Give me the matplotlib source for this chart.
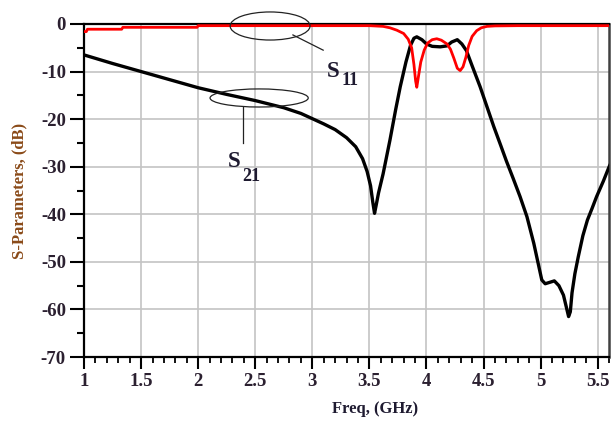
import matplotlib
matplotlib.use("Agg")
import matplotlib.pyplot as plt
from matplotlib.patches import Ellipse
from matplotlib.ticker import MultipleLocator

plt.rcParams['font.family'] = ['Liberation Serif', 'DejaVu Serif']
plt.rcParams['axes.unicode_minus'] = False

# ---- data ----
s21_freq = [1.00, 1.25, 1.50, 1.75, 2.00, 2.25, 2.50, 2.75, 2.90, 3.00, 3.10, 3.20,
            3.30, 3.38, 3.44, 3.48, 3.51, 3.53, 3.545, 3.56, 3.58, 3.62, 3.68, 3.73,
            3.77, 3.82, 3.86, 3.89, 3.915, 3.96, 4.00, 4.05, 4.12, 4.18, 4.22, 4.27,
            4.31, 4.35, 4.40, 4.47, 4.53, 4.59, 4.65, 4.70, 4.76, 4.82, 4.88, 4.94,
            4.98, 5.01, 5.04, 5.08, 5.12, 5.16, 5.20, 5.225, 5.245, 5.26, 5.275, 5.30,
            5.33, 5.37, 5.41, 5.45, 5.49, 5.55, 5.60, 5.63]
s21_db = [-6.5, -8.3, -10.0, -11.7, -13.4, -14.8, -16.1, -17.6, -18.8, -19.9, -21.0, -22.2,
          -23.9, -25.8, -28.3, -31.0, -34.0, -37.5, -39.8, -38.0, -35.5, -31.5, -24.4, -18.0,
          -13.2, -8.0, -4.5, -3.0, -2.7, -3.3, -4.2, -4.7, -4.8, -4.6, -3.8, -3.3,
          -4.2, -5.6, -8.8, -13.2, -17.4, -21.6, -25.5, -28.8, -32.5, -36.3, -40.5, -46.1,
          -50.5, -53.8, -54.6, -54.3, -54.0, -55.0, -57.0, -59.5, -61.5, -60.5, -56.5, -52.5,
          -48.9, -44.5, -41.2, -38.8, -36.3, -33.0, -30.0, -28.5]

s11_freq = [1.00, 1.02, 1.03, 1.33, 1.34, 1.99, 2.00, 3.50, 3.62, 3.68, 3.74, 3.80,
            3.84, 3.87, 3.89, 3.905, 3.915, 3.93, 3.95, 3.98, 4.01, 4.05, 4.09, 4.13,
            4.18, 4.21, 4.24, 4.27, 4.295, 4.32, 4.345, 4.37, 4.40, 4.44, 4.48, 4.53,
            4.60, 4.80, 5.63]
s11_db = [-1.6, -1.6, -1.1, -1.1, -0.7, -0.7, -0.35, -0.35, -0.5, -0.8, -1.3, -2.0,
          -3.2, -5.0, -8.5, -12.0, -13.3, -11.0, -8.0, -5.5, -4.0, -3.3, -3.1, -3.4,
          -4.2, -5.3, -7.2, -9.3, -9.8, -9.0, -7.0, -4.5, -2.6, -1.4, -0.8, -0.5,
          -0.4, -0.35, -0.35]

x_ticks = [1, 1.5, 2, 2.5, 3, 3.5, 4, 4.5, 5, 5.5]
x_tick_labels = ['1', '1.5', '2', '2.5', '3', '3.5', '4', '4.5', '5', '5.5']
y_ticks = [-70, -60, -50, -40, -30, -20, -10, 0]
y_tick_labels = ['-70', '-60', '-50', '-40', '-30', '-20', '-10', '0']

# ---- figure ----
fig = plt.figure(figsize=(6.12, 4.21), dpi=100)
ax = fig.add_axes([0.1373, 0.152, 0.858, 0.791])

ax.set_xlim(1, 5.6)
ax.set_ylim(-70, 0)

ax.grid(True, which='major', color='#c4c4c4', linewidth=1.2, zorder=0)
ax.set_axisbelow(True)

ax.plot(s21_freq, s21_db, color='black', linewidth=2.4, zorder=3, solid_joinstyle='round')
ax.plot(s11_freq, s11_db, color='#ff0000', linewidth=2.0, zorder=4, solid_joinstyle='round')

tick_color = '#2b2030'
ax.set_xticks(x_ticks)
ax.set_xticklabels(x_tick_labels, fontsize=13.5, fontweight='bold', color=tick_color)
ax.set_yticks(y_ticks)
ax.set_yticklabels(y_tick_labels, fontsize=13.5, fontweight='bold', color=tick_color)
ax.xaxis.set_minor_locator(MultipleLocator(0.1))
ax.yaxis.set_minor_locator(MultipleLocator(5))
ax.tick_params(axis='x', which='major', direction='out', length=8.5, width=1.5, pad=3)
ax.tick_params(axis='x', which='minor', direction='out', length=4.5, width=1.3)
ax.tick_params(axis='y', which='major', direction='out', length=10, width=1.5, pad=3)
ax.tick_params(axis='y', which='minor', direction='out', length=5, width=1.5)

for side in ['left', 'bottom', 'top']:
    ax.spines[side].set_linewidth(1.6)
    ax.spines[side].set_color('black')
ax.spines['right'].set_linewidth(1.8)
ax.spines['right'].set_color('#404040')

ax.set_xlabel('Freq, (GHz)', fontsize=12, fontweight='bold', color='#1e1a30')
ax.xaxis.set_label_coords(0.554, -0.132)
ax.set_ylabel('S-Parameters, (dB)', fontsize=12, fontweight='bold', color='#8a4a18')
ax.yaxis.set_label_coords(-0.108, 0.5)

# ---- annotations ----
e1 = Ellipse((2.63, -0.42), 0.70, 5.9, fill=False, edgecolor='#222222', linewidth=0.9,
             clip_on=False, zorder=5)
e2 = Ellipse((2.534, -15.55), 0.86, 3.8, fill=False, edgecolor='#222222', linewidth=0.9,
             clip_on=False, zorder=5)
ax.add_patch(e1)
ax.add_patch(e2)
ax.plot([2.83, 3.095], [-2.3, -5.5], color='#222222', linewidth=0.9, zorder=5)
ax.plot([2.39, 2.39], [-17.4, -25.0], color='#222222', linewidth=0.9, zorder=5)

ax.text(3.13, -11.1, 'S', fontsize=16.5, fontweight='bold', color='#1e1a30', va='baseline', ha='left', zorder=6)
ax.text(3.255, -12.8, '11', fontsize=13, fontweight='bold', color='#1e1a30', va='baseline', ha='left', zorder=6)
ax.text(2.26, -30.0, 'S', fontsize=16.5, fontweight='bold', color='#1e1a30', va='baseline', ha='left', zorder=6)
ax.text(2.385, -32.9, '21', fontsize=13, fontweight='bold', color='#1e1a30', va='baseline', ha='left', zorder=6)

fig.savefig('out.png', dpi=100)
